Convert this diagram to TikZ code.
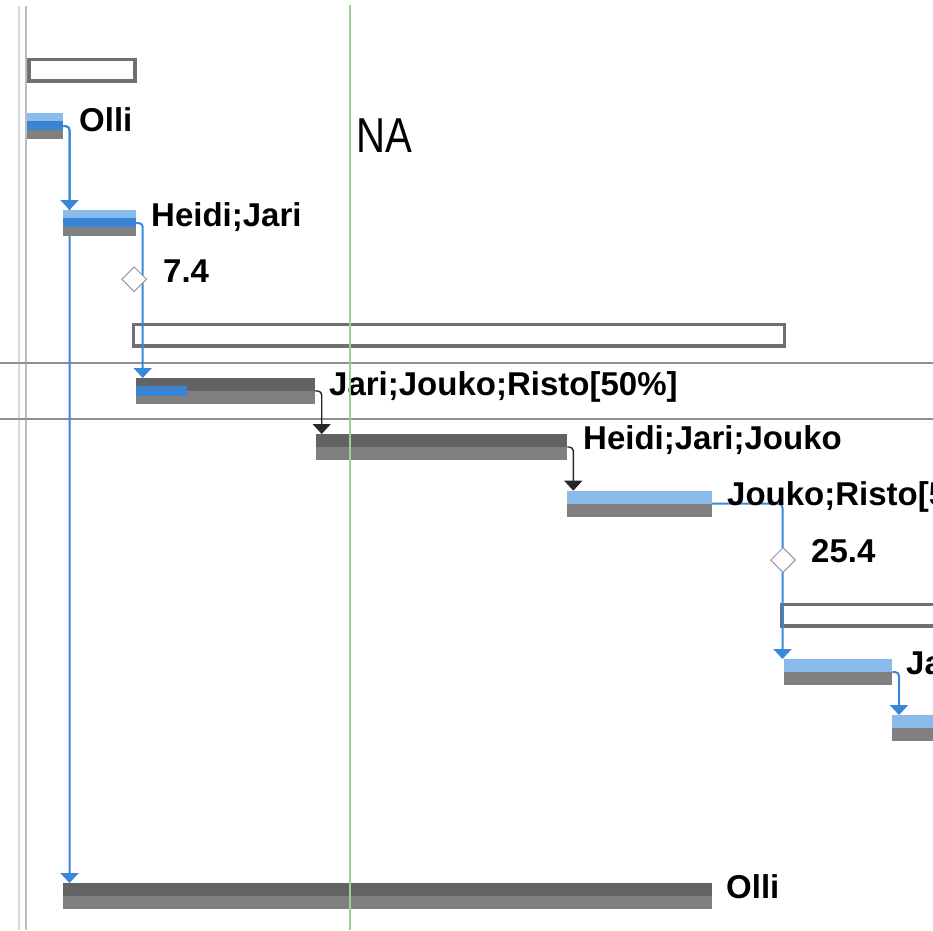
\documentclass[tikz,border=0pt]{standalone}
\usepackage{fontspec}
\usepackage{graphicx}
\setmainfont{Liberation Sans}
\usetikzlibrary{arrows.meta,shapes.geometric}
\definecolor{lblue}{HTML}{8BBBEB}
\definecolor{pblue}{HTML}{3A84D4}
\definecolor{cblue}{HTML}{3A86D8}
\definecolor{bgrey}{HTML}{808080}
\definecolor{dgrey}{HTML}{636363}
\definecolor{sgrey}{HTML}{707070}
\definecolor{hgrey}{HTML}{8E8E8E}
\definecolor{vgreya}{HTML}{D8D8D8}
\definecolor{vgreyb}{HTML}{BDBDBD}
\definecolor{nagreen}{HTML}{9CCF9C}
\definecolor{diagrey}{HTML}{9A9A9A}
\tikzset{
  lbl/.style={anchor=base west, inner sep=0pt, font=\fontsize{33}{37}\selectfont\bfseries},
  barnode/.style={anchor=north west, inner sep=0pt, outer sep=0pt, minimum height=26pt},
  sumbar/.style={draw=sgrey, line width=3.5pt, fill=white, inner sep=0pt, outer sep=0pt, anchor=north west},
  ms/.style={diamond, draw=diagrey, line width=1pt, fill=white, minimum size=25pt, inner sep=0pt},
  bcon/.style={draw=cblue, line width=2pt, rounded corners=4pt, -{Triangle[length=10pt,width=18pt]}},
  kcon/.style={draw=black!85, line width=1.4pt, rounded corners=4pt, -{Triangle[length=10pt,width=18pt]}},
}
\newcommand\ganttbar[5]{%
  \fill[#5] (#2,#4) rectangle (#3,#4+13);
  \fill[bgrey] (#2,#4+13) rectangle (#3,#4+26);
  \node[barnode, minimum width={#3-#2}] (#1) at (#2,#4) {};
}
\begin{document}
\begin{tikzpicture}[x=1pt,y=-1pt]
\useasboundingbox (0,0) rectangle (933,930);
\clip (0,0) rectangle (933,930);
% grid lines
\draw[vgreya, line width=2pt] (18.5,6) -- (18.5,930);
\draw[vgreyb, line width=2pt] (26,6) -- (26,930);
\draw[hgrey, line width=2pt] (0,363.3) -- (933,363.3);
\draw[hgrey, line width=2pt] (0,419.3) -- (933,419.3);
% summary bars
\node[sumbar, minimum width=106.2pt, minimum height=21.5pt] (s1) at (28.75,59.5) {};
\node[sumbar, minimum width=650.8pt, minimum height=21.5pt] (s2) at (133.45,324.45) {};
\node[sumbar, minimum width=200pt, minimum height=21.5pt] (s3) at (781.75,604.45) {};
% connector targets
\coordinate (t2in) at (69.5,210);
\coordinate (t8in) at (69.5,883);
\coordinate (t3in) at (142.7,378);
\coordinate (t4in) at (321.7,434);
\coordinate (t5in) at (573.3,490.7);
\coordinate (t6in) at (782.5,659);
\coordinate (t7in) at (899,715);
% bars (nodes defined first for anchors)
\ganttbar{t1}{27}{63.3}{113}{lblue}
\ganttbar{t2}{63.3}{135.7}{210}{lblue}
\ganttbar{t3}{135.7}{315}{378}{dgrey}
\ganttbar{t4}{315.7}{567.3}{434}{dgrey}
\ganttbar{t5}{567.3}{711.7}{490.7}{lblue}
\ganttbar{t6}{784}{892.3}{659}{lblue}
\ganttbar{t7}{892.3}{960}{715}{lblue}
\ganttbar{t8}{63.3}{711.7}{883}{dgrey}
% connectors
\draw[bcon] (t1.east) -| (t2in);
\draw[bcon] (t1.east) -| (t8in);
\draw[bcon] (t2.east) -| (t3in);
\draw[kcon] (t3.east) -| (t4in);
\draw[kcon] (t4.east) -| (t5in);
\draw[bcon] (t5.east) -| (t6in);
\draw[bcon] (t6.east) -| (t7in);
% redraw bars on top of connectors
\ganttbar{t1b}{27}{63.3}{113}{lblue}
\ganttbar{t2b}{63.3}{135.7}{210}{lblue}
\ganttbar{t3b}{135.7}{315}{378}{dgrey}
\ganttbar{t4b}{315.7}{567.3}{434}{dgrey}
\ganttbar{t5b}{567.3}{711.7}{490.7}{lblue}
\ganttbar{t6b}{784}{892.3}{659}{lblue}
\ganttbar{t7b}{892.3}{960}{715}{lblue}
\ganttbar{t8b}{63.3}{711.7}{883}{dgrey}
% progress
\fill[pblue] (27,121) rectangle (63.3,130);
\fill[pblue] (63.3,218.3) rectangle (135.7,227.3);
\fill[pblue] (135.7,386) rectangle (187.3,396);
% milestones
\node[ms] (m1) at (134.2,279.2) {};
\node[ms] (m2) at (783,560) {};
% labels
\node[lbl] (l1) at (79,131) {Olli};
\node[lbl] (l2) at (151,226) {Heidi;Jari};
\node[lbl] (l3) at (163,282) {7.4};
\node[lbl] (l4) at (329,395) {Jari;Jouko;Risto[50\%]};
\node[lbl] (l5) at (583,449) {Heidi;Jari;Jouko};
\node[lbl] (l6) at (727,505) {Jouko;Risto[5};
\node[lbl] (l7) at (811,562) {25.4};
\node[lbl] (l8) at (906,674) {Ja};
\node[lbl] (l9) at (726,898) {Olli};
\node[anchor=base west, inner sep=0pt] (na) at (356,152) {\scalebox{0.82}[1]{\fontsize{49}{55}\selectfont NA}};
% status line
\draw[nagreen, line width=1.5pt] (350,5) -- (350,930);
\end{tikzpicture}
\end{document}
